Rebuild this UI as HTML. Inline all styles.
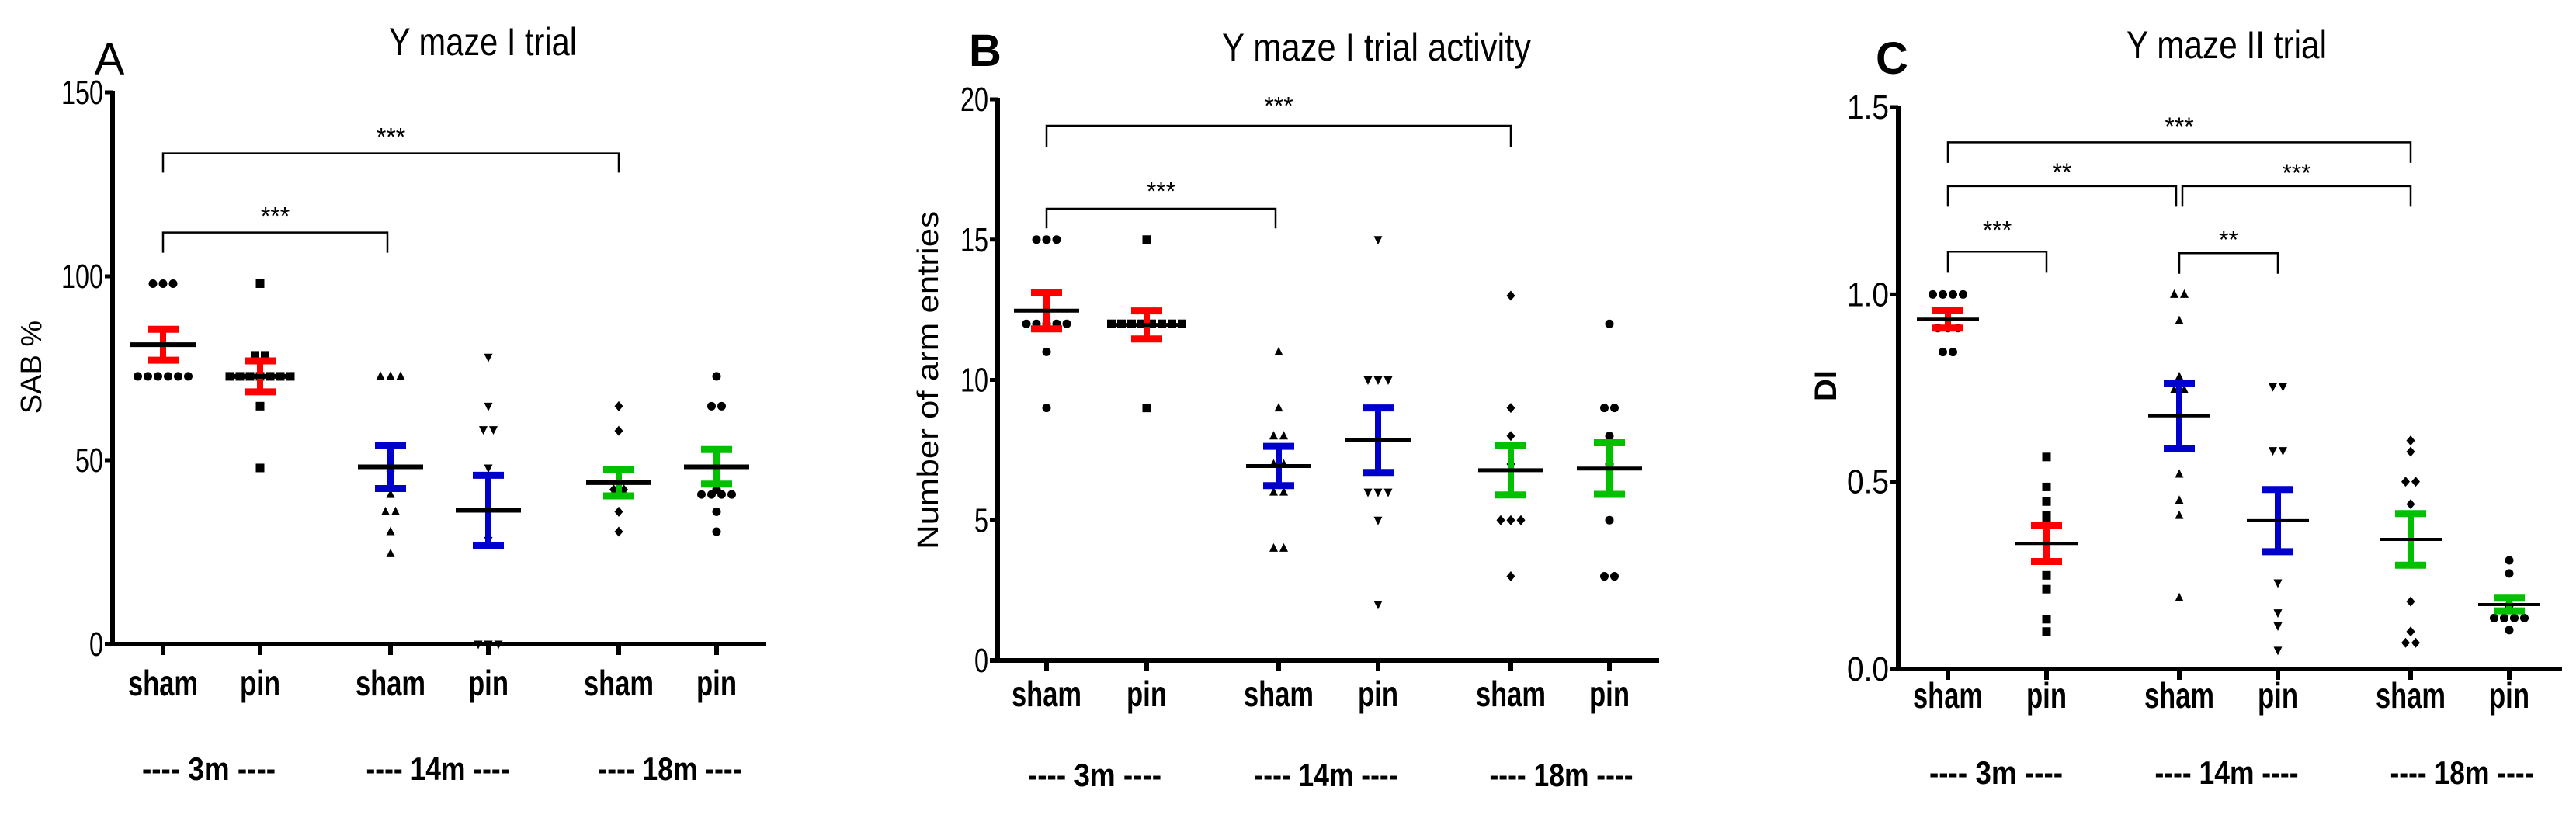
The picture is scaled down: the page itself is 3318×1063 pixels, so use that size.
<!DOCTYPE html>
<html>
<head>
<meta charset="utf-8">
<style>
html,body{margin:0;padding:0;background:#fff;}
svg{display:block;}
text{font-family:"Liberation Sans",Arial,sans-serif;fill:#000;}
</style>
</head>
<body>
<svg id="fig" width="3318" height="1063" viewBox="0 0 3318 1063" xmlns="http://www.w3.org/2000/svg"></svg>
<script>
// ---- data ----
const categories = ['sham','pin','sham','pin','sham','pin'];
const groupLabels = ['---- 3m ----','---- 14m ----','---- 18m ----'];
const seriesColors = ['#ff0000','#ff0000','#0000cc','#0000cc','#00c000','#00c000'];
const markerShapes = ['circle','square','triangle','down','diamond','circle'];

const aTicks = [0,50,100,150];
const aMeans = [81.4,72.8,48.2,36.4,43.9,48.2];
const aSem = [4.2,4.2,5.9,9.5,3.6,4.7];
const aPoints = [
  [98,98,98,72.8,72.8,72.8,72.8,72.8,72.8],
  [98,78.5,78.5,72.8,72.8,72.8,72.8,72.8,72.8,72.8,64.7,47.9],
  [72.8,72.8,72.8,47.9,40.7,36,36,30.6,24.6],
  [78,64.7,58.3,58.3,47.9,28.2,0,0,0],
  [64.7,58,42,42,40.7,40.7,36,30.6],
  [72.8,64.7,64.7,42,40.7,40.7,40.7,40.7,36,30.6]
];
const aBrackets = [[0,2,111.9,106.4,'***',117],[0,4,133.4,128.2,'***',138.5]];

const bTicks = [0,5,10,15,20];
const bMeans = [12.47,11.96,6.93,7.85,6.78,6.84];
const bSem = [0.65,0.5,0.7,1.15,0.88,0.92];
const bPoints = [
  [15,15,15,12,12,12,12,12,11,9],
  [15,12,12,12,12,12,12,12,12,9],
  [11,9,8,8,7,7,6,6,4,4],
  [15,10,10,10,6,6,6,5,2],
  [13,9,8,7,5,5,5,3],
  [12,9,9,8,7,5,3,3]
];
const bBrackets = [[0,2,16.1,15.4,'***',16.8],[0,4,19.06,18.3,'***',19.85]];

const cTicks = [0.0,0.5,1.0,1.5];
const cMeans = [0.934,0.335,0.676,0.396,0.346,0.172];
const cSem = [0.024,0.048,0.087,0.083,0.069,0.017];
const cPoints = [
  [1,1,1,1,0.91,0.91,0.91,0.846,0.846],
  [0.566,0.486,0.447,0.41,0.39,0.25,0.213,0.133,0.1],
  [1,1,0.93,0.78,0.745,0.745,0.52,0.45,0.41,0.19],
  [0.754,0.754,0.583,0.583,0.23,0.15,0.115,0.05],
  [0.61,0.58,0.5,0.5,0.44,0.18,0.1,0.07,0.07],
  [0.29,0.255,0.17,0.136,0.136,0.136,0.136,0.104]
];
const cBrackets = [[0,1,1.114,1.058,'***',1.178],[0,2,1.289,1.234,'**',1.332],[2,4,1.289,1.234,'***',1.33],[2,3,1.11,1.055,'**',1.152],[0,4,1.406,1.351,'***',1.454]];

// ---- layout ----
const NS='http://www.w3.org/2000/svg';
const svg=document.getElementById('fig');
function mk(tag,attrs,parent){const e=document.createElementNS(NS,tag);for(const k in attrs)e.setAttribute(k,attrs[k]);(parent||svg).appendChild(e);return e;}

const panels=[
 {id:'a',letter:'A',title:'Y maze I trial',titleW:242,tx:622,ty:54,lx:141,ly:76,ytitle:'SAB %',ytx:40,yty:473,ytBold:false,ytW:null,
  ax:145,y0:830,yTop:119,max:150,ticks:aTicks,dec:0,xs:[210,335,503,629,797,923],xEnd:986,catY:880,grpY:990,grpXs:[269,564,863],
  means:aMeans,sem:aSem,points:aPoints,brackets:aBrackets,mhw:42,lw:6},
 {id:'b',letter:'B',title:'Y maze I trial activity',titleW:398,tx:1773,ty:61,lx:1269,ly:65,ytitle:'Number of arm entries',ytx:1195,yty:490,ytBold:false,ytW:436,
  ax:1285,y0:851,yTop:128,max:20,ticks:bTicks,dec:0,xs:[1348,1477,1647,1775,1946,2073],xEnd:2137,catY:894,grpY:998,grpXs:[1410,1708,2011],
  means:bMeans,sem:bSem,points:bPoints,brackets:bBrackets,mhw:42,lw:5},
 {id:'c',letter:'C',title:'Y maze II trial',titleW:258,tx:2868,ty:58,lx:2437,ly:75,ytitle:'DI',ytx:2352,yty:497,ytBold:true,ytW:null,
  ax:2445,y0:862,yTop:138,max:1.5,ticks:cTicks,dec:1,xs:[2509,2636,2807,2934,3105,3232],xEnd:3300,catY:896,grpY:995,grpXs:[2571,2868,3171],
  means:cMeans,sem:cSem,points:cPoints,brackets:cBrackets,mhw:40,lw:4}
];

function marker(g,shape,x,y){
  const r=5.5;let e;
  if(shape==='circle'){e=mk('circle',{cx:x,cy:y,r:r},g);}
  else if(shape==='square'){e=mk('rect',{x:x-r,y:y-r,width:2*r,height:2*r},g);}
  else if(shape==='triangle'){e=mk('polygon',{points:`${x},${y-r-1} ${x-r},${y+r-1} ${x+r},${y+r-1}`},g);}
  else if(shape==='down'){e=mk('polygon',{points:`${x},${y+r+1} ${x-r},${y-r+1} ${x+r},${y-r+1}`},g);}
  else {e=mk('polygon',{points:`${x},${y-r-1} ${x+r},${y} ${x},${y+r+1} ${x-r},${y}`},g);}
  e.setAttribute('fill','#000');
  
  
}

panels.forEach(p=>{
  const g=mk('g',{});
  
  
  const Y=v=>p.y0-(v/p.max)*(p.y0-p.yTop);

  const lt=mk('text',{x:p.lx,y:p.ly+20,'font-size':58,'text-anchor':'middle','font-weight':p.id==='a'?'normal':'bold'},g);
  lt.textContent=p.letter;
  
  

  const tt=mk('text',{x:p.tx,y:p.ty+17,'font-size':50,'text-anchor':'middle',textLength:p.titleW,lengthAdjust:'spacingAndGlyphs'},g);
  tt.textContent=p.title;
  
  

  const yt=mk('text',{x:0,y:0,'font-size':p.ytBold?40:38,'font-weight':p.ytBold?'bold':'normal','text-anchor':'middle',transform:`translate(${p.ytx+13},${p.yty}) rotate(-90)`},g);
  if(p.ytW){yt.setAttribute('textLength',p.ytW);yt.setAttribute('lengthAdjust','spacingAndGlyphs');}
  yt.textContent=p.ytitle;
  
  

  const ya=mk('line',{x1:p.ax,y1:p.yTop-2,x2:p.ax,y2:p.y0+3,stroke:'#000','stroke-width':6},g);
  
  
  const xa=mk('line',{x1:p.ax-10,y1:p.y0,x2:p.xEnd,y2:p.y0,stroke:'#000','stroke-width':6},g);
  
  

  p.ticks.forEach(t=>{
    const y=Y(t);
    mk('line',{x1:p.ax-10,y1:y,x2:p.ax,y2:y,stroke:'#000','stroke-width':5},g);
    const s=t.toFixed(p.dec);
    const tl=mk('text',{x:p.ax-12,y:y+15,'font-size':44,'text-anchor':'end',textLength:s.length*18,lengthAdjust:'spacingAndGlyphs'},g);
    tl.textContent=s;
    
    
  });

  categories.forEach((c,i)=>{
    const x=p.xs[i];
    mk('line',{x1:x,y1:p.y0,x2:x,y2:p.y0+14,stroke:'#000','stroke-width':6},g);
    const cl=mk('text',{x:x,y:p.catY+16,'font-size':46,'font-weight':'bold','text-anchor':'middle',textLength:c==='sham'?90:52,lengthAdjust:'spacingAndGlyphs'},g);
    cl.textContent=c;
    
    
  });
  groupLabels.forEach((gl,i)=>{
    const t=mk('text',{x:p.grpXs[i],y:p.grpY+15,'font-size':42,'font-weight':'bold','text-anchor':'middle',textLength:gl.length>12?185:172,lengthAdjust:'spacingAndGlyphs'},g);
    t.textContent=gl;
    
    
  });

  p.points.forEach((arr,i)=>{
    const cnt={},seen={};
    arr.forEach(v=>{cnt[v]=(cnt[v]||0)+1;});
    arr.forEach(v=>{
      const k=seen[v]||0;seen[v]=k+1;
      const dx=(k-(cnt[v]-1)/2)*13;
      marker(g,markerShapes[i],p.xs[i]+dx,Y(v));
    });
  });

  p.means.forEach((m,i)=>{
    const x=p.xs[i],col=seriesColors[i];
    const hi=Y(m+p.sem[i]),lo=Y(m-p.sem[i]);
    const eb=mk('g',{},g);
    
    
    mk('line',{x1:x,y1:hi,x2:x,y2:lo,stroke:col,'stroke-width':8},eb);
    mk('line',{x1:x-20,y1:hi,x2:x+20,y2:hi,stroke:col,'stroke-width':9},eb);
    mk('line',{x1:x-20,y1:lo,x2:x+20,y2:lo,stroke:col,'stroke-width':9},eb);
    const ml=mk('line',{x1:x-p.mhw,y1:Y(m),x2:x+p.mhw,y2:Y(m),stroke:'#000','stroke-width':p.lw},g);
    
    
  });

  p.brackets.forEach(b=>{
    const x1=p.xs[b[0]]+(b[0]===2&&b[1]===4?4:0),x2=p.xs[b[1]]-(b[1]===2?4:0);
    const yb=Y(b[2]),yd=Y(b[3]);
    const br=mk('polyline',{points:`${x1},${yd} ${x1},${yb} ${x2},${yb} ${x2},${yd}`,fill:'none',stroke:'#000','stroke-width':2.5},g);
    
    
    const st=mk('text',{x:(x1+x2)/2,y:Y(b[5])+14,'font-size':32,'text-anchor':'middle'},g);
    st.textContent=b[4];
    
    
  });
});
</script>
</body>
</html>
